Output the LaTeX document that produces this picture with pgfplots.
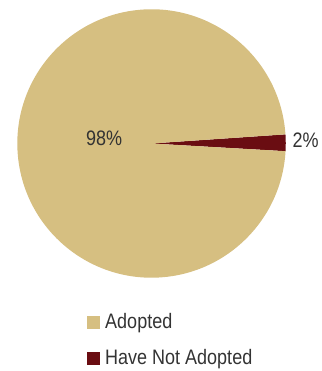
\documentclass[border=0pt]{standalone}
\usepackage{fontspec}
\setmainfont{Liberation Sans}[FakeStretch=0.86]
\usepackage{pgfplots}
\usepackage{pgfplotstable}
\pgfplotsset{compat=1.18}
\definecolor{tan}{RGB}{214,191,129}
\definecolor{darkred}{RGB}{106,13,18}
\definecolor{txt}{RGB}{51,51,51}
\pgfplotstableread{
value
98
2
}\piedata
\begin{document}
\begin{tikzpicture}
\pgfplotstablegetelem{0}{value}\of\piedata \let\va\pgfplotsretval
\pgfplotstablegetelem{1}{value}\of\piedata \let\vb\pgfplotsretval
\pgfmathsetmacro{\astart}{-3.3}
\pgfmathsetmacro{\amid}{\astart+3.6*\vb}
\pgfmathsetmacro{\aend}{\astart+360}
\begin{axis}[
  scale only axis, x=134.2bp, y=134.2bp,
  xmin=-1.129, xmax=1.263, ymin=-1.695, ymax=1.069,
  hide axis, clip=false,
  /pgf/number format/assume math mode=true,
  legend cell align=left,
  legend image code/.code={\fill[#1] (0bp,-6.5bp) rectangle (13bp,6.5bp);},
  legend style={at={(axis cs:-0.4806,-1.263)}, anchor=north west, draw=none, fill=none,
    inner sep=0pt, row sep=17bp, column sep=5bp,
    font=\fontsize{21}{25}\selectfont\color{txt},
    nodes={inner sep=0pt, text height=15bp, text depth=4bp}},
]
\path (axis cs:-1.129,-1.695) rectangle (axis cs:1.263,1.069);
\addlegendimage{fill=tan, draw=none}
\addlegendentry{Adopted}
\addlegendimage{fill=darkred, draw=none}
\addlegendentry{Have Not Adopted}
\fill[darkred] (axis cs:0,0) -- (axis cs:{cos(\astart)},{sin(\astart)}) arc[start angle=\astart, end angle=\amid, radius=134.2bp] -- cycle;
\fill[tan] (axis cs:0,0) -- (axis cs:{cos(\amid)},{sin(\amid)}) arc[start angle=\amid, end angle=\aend, radius=134.2bp] -- cycle;
\node[inner sep=0pt, text=txt, font=\fontsize{21}{25}\selectfont] at (axis cs:-0.354,0.041) {\pgfmathprintnumber[assume math mode=true]{\va}\%};
\node[inner sep=0pt, text=txt, font=\fontsize{21}{25}\selectfont] at (axis cs:1.1475,0.026) {\pgfmathprintnumber[assume math mode=true]{\vb}\%};
\end{axis}
\end{tikzpicture}
\end{document}
